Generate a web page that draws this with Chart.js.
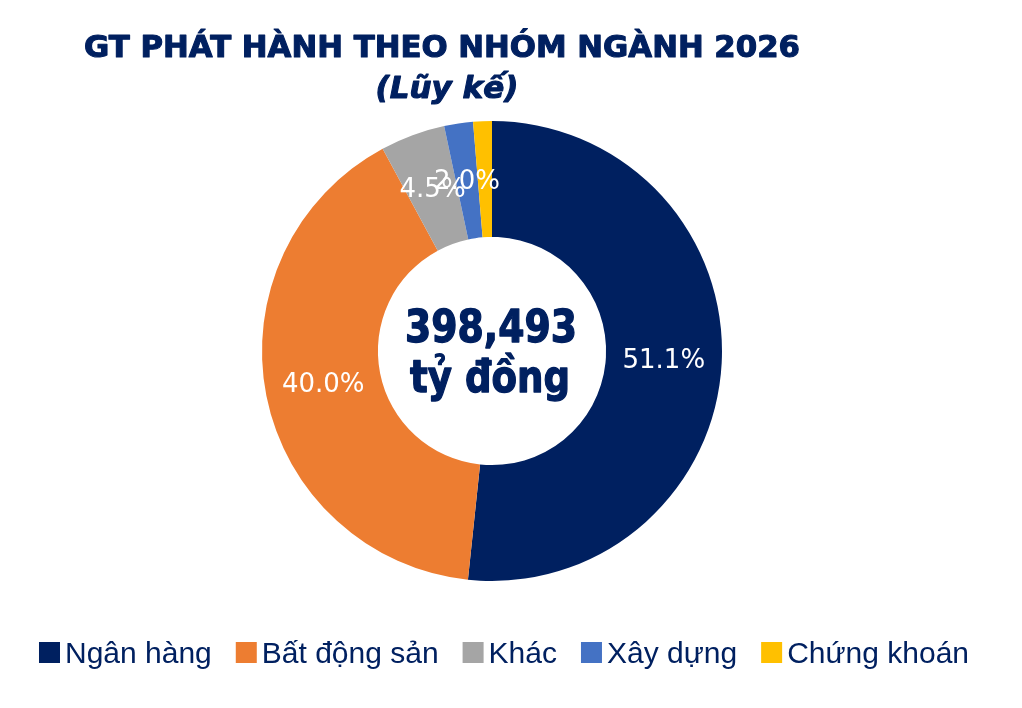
<!DOCTYPE html>
<html>
<head>
<meta charset="utf-8">
<script src="https://cdn.jsdelivr.net/npm/chart.js@4.4.1/dist/chart.umd.min.js"></script>
<style>
  html, body { margin: 0; padding: 0; background: #fff; }
  #myChart { display: block; }
</style>
</head>
<body>
<canvas id="myChart" width="1022" height="708"></canvas>
<script>
// data
const categories = ["Ngân hàng", "Bất động sản", "Khác", "Xây dựng", "Chứng khoán"];
const shares = [51.1, 40.0, 4.5, 2.0, 1.3];
const sliceColors = ["#002060", "#ED7D31", "#A5A5A5", "#4472C4", "#FFC000"];

const titleText = "GT PHÁT HÀNH THEO NHÓM NGÀNH 2026";
const subtitleText = "(Lũy kế)";
const totalValue = "398,493";
const totalUnit = "tỷ đồng";

const navy = "#002060";

// bold text a bit heavier, like the original font
function heavyText(ctx, text, x, y, maxW) {
  ctx.fillText(text, x, y, maxW);
  ctx.strokeText(text, x, y, maxW);
}

// white % labels in the ring, small slices skipped
const sliceLabels = {
  id: "sliceLabels",
  afterDatasetsDraw(chart) {
    const ctx = chart.ctx;
    const meta = chart.getDatasetMeta(0);
    ctx.save();
    ctx.fillStyle = "#fff";
    ctx.font = "26px 'DejaVu Sans'";
    ctx.textAlign = "center";
    ctx.textBaseline = "middle";
    meta.data.forEach((arc, i) => {
      if (shares[i] < 1.5) return;
      const p = arc.tooltipPosition();
      ctx.fillText(shares[i].toFixed(1) + "%", p.x, p.y + 1, 84);
    });
    ctx.restore();
  }
};

// title, total in the hole, legend row
const extras = {
  id: "extras",
  afterDraw(chart) {
    const ctx = chart.ctx;
    const arc = chart.getDatasetMeta(0).data[0];
    ctx.save();
    ctx.fillStyle = navy;
    ctx.strokeStyle = navy;
    ctx.lineJoin = "round";
    ctx.textAlign = "center";
    ctx.textBaseline = "alphabetic";

    ctx.lineWidth = 1.1;
    ctx.font = "bold 31px 'DejaVu Sans'";
    heavyText(ctx, titleText, 442, 57, 716);
    ctx.font = "italic bold 31px 'DejaVu Sans'";
    heavyText(ctx, subtitleText, 447, 98, 146);

    ctx.lineWidth = 1.4;
    ctx.font = "bold 45px 'DejaVu Sans'";
    heavyText(ctx, totalValue, arc.x - 1, 342, 172);
    heavyText(ctx, totalUnit, arc.x - 2, 392, 160);

    // legend
    ctx.font = "30px 'Liberation Sans'";
    ctx.textAlign = "left";
    const box = 21, gapIn = 5, gapOut = 24;
    let widths = categories.map(c => ctx.measureText(c).width);
    let total = widths.reduce((a, w) => a + box + gapIn + w, 0) + gapOut * (categories.length - 1);
    let x = 504 - total / 2;
    categories.forEach((c, i) => {
      ctx.fillStyle = sliceColors[i];
      ctx.fillRect(x, 642, box, box);
      ctx.fillStyle = navy;
      ctx.fillText(c, x + box + gapIn, 663);
      x += box + gapIn + widths[i] + gapOut;
    });
    ctx.restore();
  }
};

const ctx = document.getElementById("myChart").getContext("2d");
const myChart = new Chart(ctx, {
  type: "doughnut",
  data: {
    labels: categories,
    datasets: [
      {
        data: shares,
        backgroundColor: sliceColors,
        borderWidth: 0,
      },
    ],
  },
  options: {
    responsive: false,
    animation: false,
    cutout: "49.6%",
    layout: { padding: { top: 121, bottom: 127, left: 262, right: 300 } },
    plugins: {
      legend: { display: false },
      tooltip: { enabled: false },
    },
  },
  plugins: [sliceLabels, extras],
});
</script>
</body>
</html>
